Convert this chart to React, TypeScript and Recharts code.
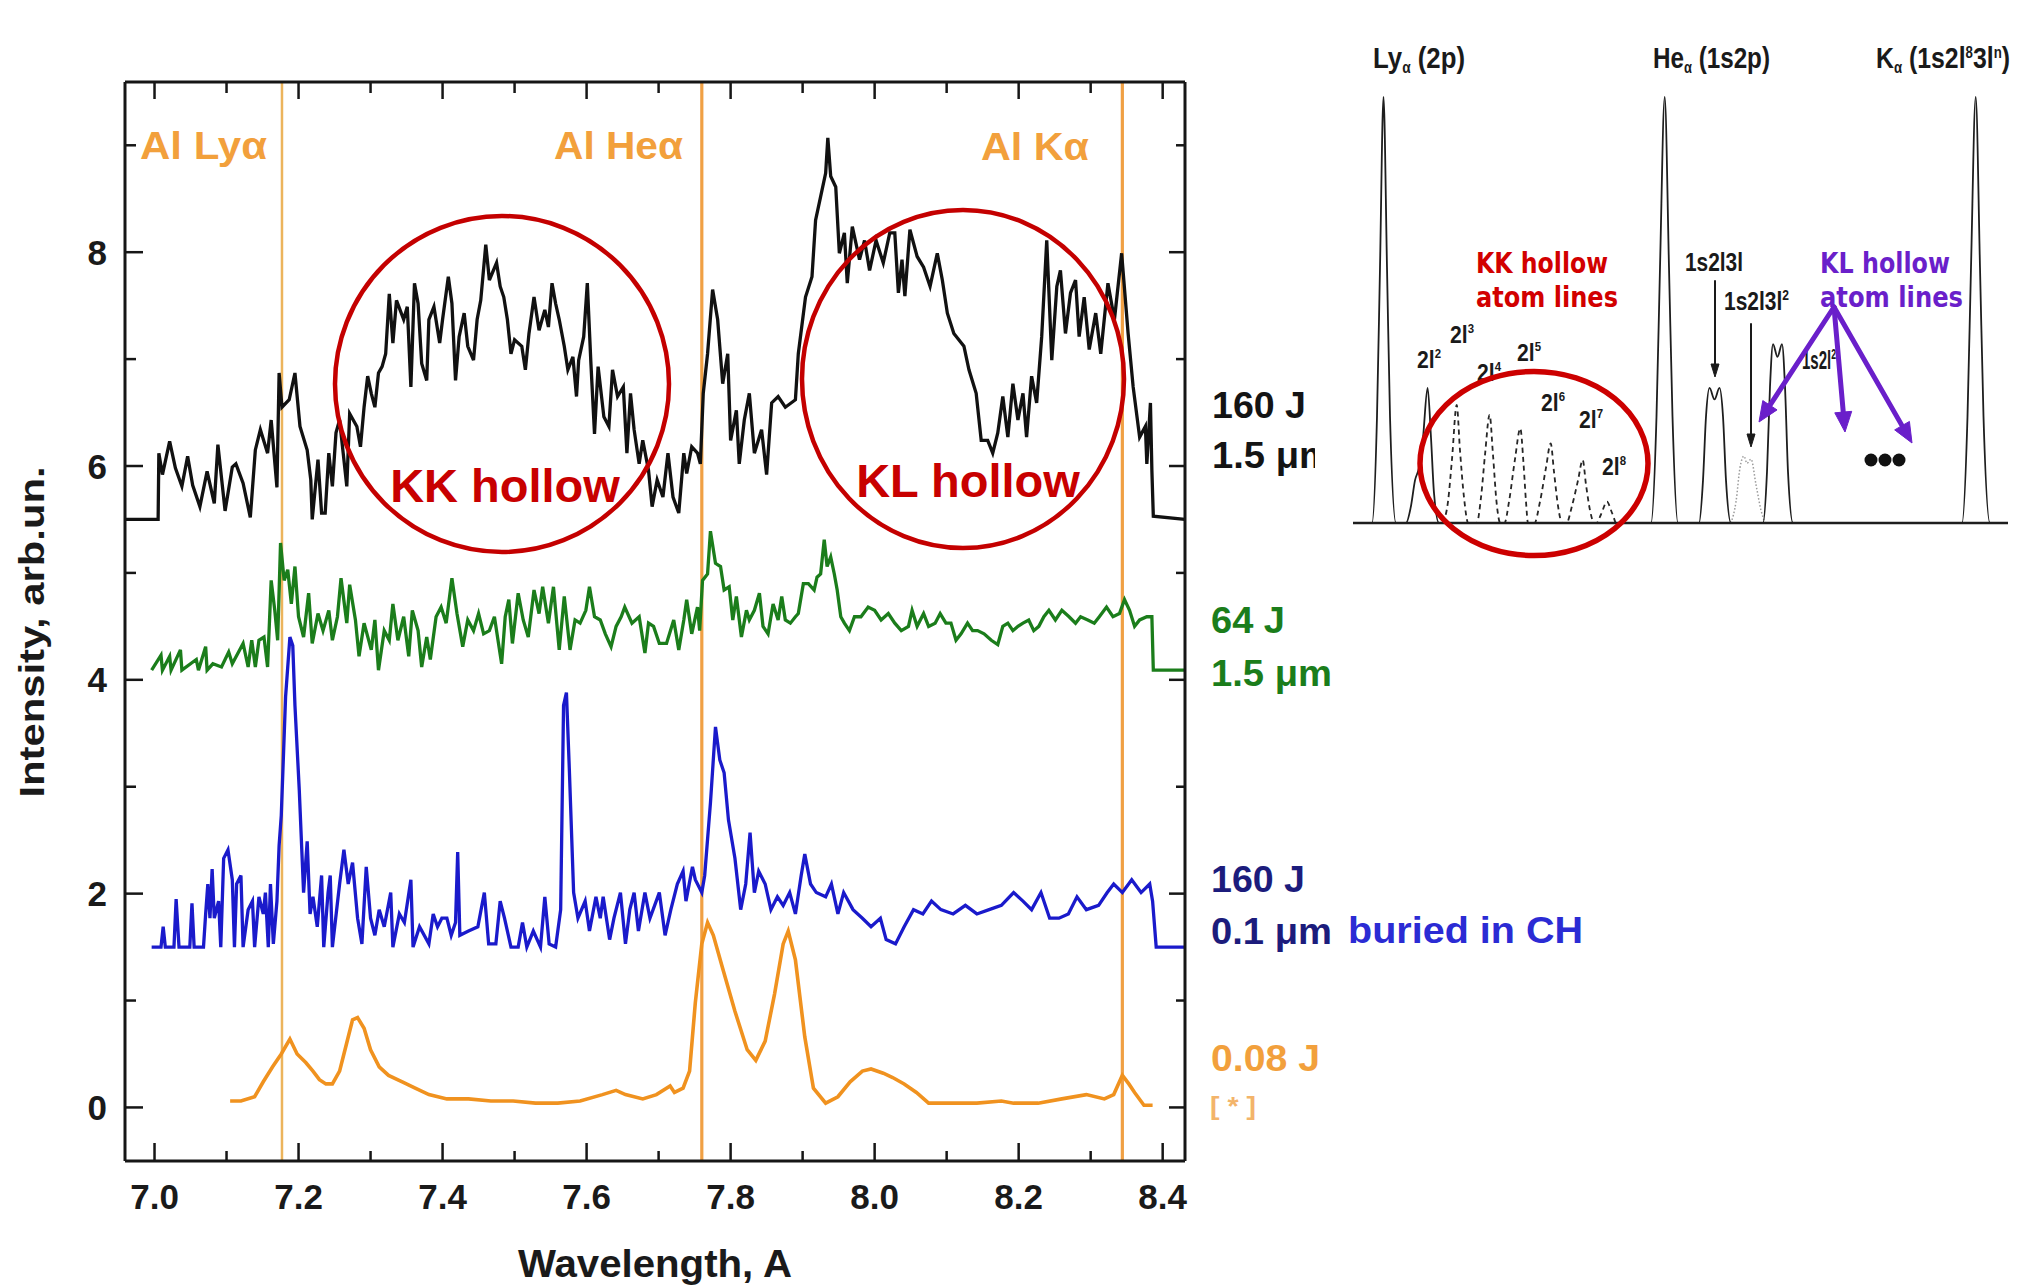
import React from 'react';
import { LineChart, Line, XAxis, YAxis, ReferenceLine } from 'recharts';

const FONT = '"Liberation Sans", Arial, Helvetica, sans-serif';

// ---------- main spectra (wavelength Å, intensity arb.un.) ----------
const blackPts: [number, number][] = [
  [6.959,5.5],[7.005,5.5],[7.006,6.12],[7.011,5.92],[7.021,6.23],[7.029,5.98],[7.038,5.81],[7.046,6.09],[7.053,5.82],[7.063,5.62],[7.073,5.95],[7.083,5.65],[7.088,6.2],[7.098,5.58],[7.108,5.99],[7.113,6.02],[7.123,5.84],[7.133,5.52],[7.14,6.15],[7.147,6.34],[7.157,6.12],[7.162,6.43],[7.17,5.8],[7.173,6.87],[7.177,6.55],[7.187,6.62],[7.195,6.87],[7.202,6.37],[7.212,6.15],[7.217,5.87],[7.219,5.5],[7.227,6.06],[7.232,5.56],[7.237,5.56],[7.242,6.12],[7.247,5.81],[7.252,6.31],[7.257,6.43],[7.262,6.12],[7.267,5.81],[7.271,6.49],[7.281,6.37],[7.286,6.18],[7.291,6.55],[7.296,6.84],[7.301,6.68],[7.306,6.55],[7.311,6.87],[7.316,6.93],[7.321,7.05],[7.326,7.61],[7.331,7.15],[7.336,7.55],[7.346,7.37],[7.351,7.49],[7.356,6.74],[7.361,7.71],[7.366,7.52],[7.371,6.96],[7.378,6.8],[7.381,7.37],[7.388,7.49],[7.396,7.15],[7.4,7.37],[7.408,7.77],[7.413,7.52],[7.418,6.8],[7.423,7.21],[7.43,7.43],[7.435,7.12],[7.443,6.99],[7.448,7.37],[7.453,7.55],[7.46,8.07],[7.465,7.74],[7.475,7.9],[7.48,7.68],[7.485,7.58],[7.49,7.37],[7.495,7.05],[7.5,7.18],[7.51,7.12],[7.515,6.9],[7.52,7.24],[7.527,7.58],[7.534,7.27],[7.542,7.46],[7.547,7.3],[7.552,7.71],[7.557,7.52],[7.562,7.37],[7.569,7.12],[7.574,6.9],[7.581,7.02],[7.586,6.65],[7.589,6.99],[7.596,7.21],[7.601,7.71],[7.606,6.96],[7.611,6.3],[7.616,6.93],[7.624,6.46],[7.631,6.37],[7.636,6.9],[7.643,6.65],[7.651,6.74],[7.656,6.12],[7.661,6.68],[7.666,6.34],[7.673,6.02],[7.678,6.24],[7.686,5.96],[7.691,5.62],[7.698,5.87],[7.706,5.71],[7.713,6.12],[7.72,5.71],[7.728,5.56],[7.735,6.12],
  [7.739,5.93],[7.746,6.18],[7.754,6.12],[7.758,6.02],[7.762,6.68],[7.768,7.05],[7.775,7.65],[7.782,7.37],[7.789,6.77],[7.796,7.05],[7.8,6.24],[7.808,6.52],[7.812,6.02],[7.819,6.43],[7.826,6.68],[7.833,6.12],[7.843,6.34],[7.85,5.92],[7.857,6.59],[7.866,6.65],[7.876,6.55],[7.89,6.62],[7.894,7.05],[7.904,7.58],[7.913,7.77],[7.918,8.3],[7.925,8.52],[7.932,8.74],[7.935,9.07],[7.939,8.71],[7.946,8.61],[7.951,7.99],[7.958,8.18],[7.962,7.71],[7.969,8.24],[7.979,7.93],[7.986,8.11],[7.993,7.83],[8.002,8.11],[8.012,7.9],[8.021,8.18],[8.028,8.18],[8.033,7.62],[8.038,7.93],[8.042,7.59],[8.049,8.21],[8.059,7.96],[8.068,7.86],[8.077,7.68],[8.087,7.99],[8.094,7.74],[8.101,7.43],[8.11,7.24],[8.124,7.12],[8.131,6.9],[8.141,6.68],[8.148,6.24],[8.157,6.24],[8.164,6.12],[8.171,6.31],[8.178,6.65],[8.185,6.27],[8.192,6.77],[8.199,6.43],[8.206,6.68],[8.211,6.27],[8.218,6.84],[8.225,6.59],[8.232,7.21],[8.239,8.11],[8.246,6.99],[8.253,7.68],[8.258,7.83],[8.265,7.24],[8.272,7.62],[8.279,7.74],[8.284,7.21],[8.291,7.58],[8.298,7.09],[8.307,7.43],[8.314,7.05],[8.324,7.71],[8.333,7.37],[8.343,7.99],[8.352,7.24],[8.359,6.74],[8.368,6.27],[8.376,6.37],[8.378,6.02],[8.383,6.59],[8.385,5.96],[8.387,5.53],[8.431,5.5],
];

const greenPts: [number, number][] = [
  [6.996,4.09],[7.009,4.23],[7.011,4.09],[7.021,4.22],[7.023,4.09],[7.036,4.28],[7.038,4.09],[7.058,4.19],[7.061,4.09],[7.071,4.31],[7.073,4.09],[7.081,4.15],[7.093,4.12],[7.103,4.26],[7.108,4.15],[7.123,4.34],[7.13,4.12],[7.135,4.37],[7.14,4.12],[7.145,4.37],[7.152,4.4],[7.157,4.12],[7.162,4.93],[7.167,4.65],[7.171,4.37],[7.175,5.28],[7.18,4.93],[7.185,5.03],[7.19,4.71],[7.195,5.06],[7.2,4.59],[7.207,4.4],[7.214,4.81],[7.219,4.34],[7.227,4.62],[7.234,4.46],[7.242,4.65],[7.247,4.37],[7.254,4.59],[7.259,4.95],[7.267,4.53],[7.271,4.89],[7.279,4.56],[7.284,4.22],[7.291,4.53],[7.301,4.28],[7.306,4.56],[7.311,4.09],[7.319,4.46],[7.326,4.37],[7.331,4.71],[7.338,4.37],[7.346,4.59],[7.353,4.22],[7.358,4.65],[7.366,4.46],[7.371,4.12],[7.378,4.4],[7.383,4.19],[7.391,4.59],[7.398,4.68],[7.405,4.53],[7.413,4.95],[7.42,4.62],[7.428,4.31],[7.435,4.56],[7.443,4.46],[7.45,4.62],[7.457,4.43],[7.465,4.46],[7.472,4.59],[7.482,4.15],[7.487,4.59],[7.492,4.75],[7.497,4.34],[7.505,4.81],[7.512,4.56],[7.519,4.4],[7.527,4.84],[7.534,4.62],[7.539,4.87],[7.547,4.53],[7.554,4.87],[7.562,4.28],[7.569,4.78],[7.577,4.28],[7.584,4.56],[7.591,4.53],[7.599,4.65],[7.604,4.87],[7.611,4.59],[7.619,4.56],[7.626,4.43],[7.634,4.31],[7.641,4.5],[7.648,4.59],[7.653,4.68],[7.663,4.53],[7.673,4.59],[7.681,4.25],[7.686,4.53],[7.693,4.5],[7.701,4.34],
  [7.711,4.34],[7.721,4.56],[7.728,4.28],[7.735,4.56],[7.739,4.75],[7.746,4.43],[7.754,4.68],[7.757,4.46],[7.761,4.93],[7.768,4.99],[7.772,5.39],[7.779,5.09],[7.786,5.06],[7.791,4.84],[7.798,4.87],[7.803,4.56],[7.808,4.78],[7.815,4.4],[7.822,4.65],[7.826,4.56],[7.833,4.65],[7.84,4.81],[7.845,4.5],[7.852,4.43],[7.859,4.71],[7.866,4.56],[7.871,4.78],[7.876,4.56],[7.883,4.53],[7.89,4.59],[7.894,4.62],[7.901,4.9],[7.908,4.9],[7.916,4.84],[7.92,4.96],[7.925,4.99],[7.93,5.31],[7.934,5.06],[7.939,5.15],[7.944,4.99],[7.948,4.84],[7.953,4.59],[7.958,4.53],[7.965,4.46],[7.972,4.59],[7.981,4.59],[7.991,4.68],[8.0,4.65],[8.009,4.56],[8.019,4.62],[8.028,4.53],[8.037,4.46],[8.047,4.5],[8.052,4.65],[8.059,4.5],[8.068,4.62],[8.075,4.5],[8.084,4.53],[8.091,4.62],[8.099,4.53],[8.106,4.53],[8.113,4.37],[8.12,4.43],[8.129,4.53],[8.136,4.46],[8.143,4.46],[8.152,4.43],[8.162,4.37],[8.171,4.33],[8.178,4.5],[8.185,4.53],[8.192,4.46],[8.199,4.5],[8.206,4.53],[8.214,4.56],[8.221,4.46],[8.228,4.5],[8.235,4.59],[8.242,4.65],[8.251,4.56],[8.26,4.65],[8.27,4.59],[8.279,4.53],[8.286,4.59],[8.296,4.56],[8.305,4.53],[8.312,4.59],[8.322,4.68],[8.331,4.59],[8.34,4.62],[8.347,4.75],[8.354,4.65],[8.361,4.5],[8.368,4.56],[8.378,4.59],[8.385,4.59],[8.387,4.09],[8.431,4.09],
];

const bluePts: [number, number][] = [
  [6.996,1.5],[7.009,1.5],[7.012,1.69],[7.015,1.5],[7.027,1.5],[7.03,1.95],[7.034,1.5],[7.049,1.5],[7.052,1.91],[7.055,1.5],[7.068,1.5],[7.071,1.81],[7.074,2.09],[7.077,1.77],[7.08,2.23],[7.083,1.77],[7.089,1.93],[7.092,1.5],[7.096,2.33],[7.102,2.41],[7.108,2.13],[7.111,1.5],[7.114,2.09],[7.12,2.17],[7.123,1.5],[7.13,1.85],[7.136,1.93],[7.139,1.5],[7.145,1.97],[7.151,1.81],[7.154,2.01],[7.158,1.5],[7.161,2.09],[7.165,1.53],[7.17,1.93],[7.173,2.45],[7.176,2.73],[7.182,3.84],[7.188,4.4],[7.192,4.32],[7.195,3.76],[7.201,2.97],[7.207,2.01],[7.212,2.49],[7.216,1.81],[7.22,1.97],[7.226,1.69],[7.232,2.17],[7.235,1.5],[7.241,2.01],[7.244,2.17],[7.247,1.5],[7.257,2.09],[7.263,2.41],[7.269,2.09],[7.275,2.29],[7.282,1.77],[7.288,1.53],[7.294,2.25],[7.3,1.77],[7.306,1.61],[7.312,1.85],[7.319,1.69],[7.328,2.01],[7.331,1.5],[7.34,1.81],[7.347,1.73],[7.356,2.13],[7.359,1.5],[7.368,1.69],[7.381,1.53],[7.387,1.81],[7.393,1.69],[7.399,1.77],[7.406,1.77],[7.412,1.61],[7.418,1.73],[7.421,2.39],[7.424,1.61],[7.436,1.65],[7.449,1.69],[7.458,2.01],[7.464,1.53],[7.474,1.53],[7.48,1.93],[7.486,1.77],[7.495,1.5],[7.505,1.5],[7.511,1.73],[7.517,1.5],[7.526,1.65],[7.536,1.5],[7.542,1.97],[7.548,1.53],[7.557,1.5],[7.564,1.85],[7.568,3.76],[7.572,3.88],[7.576,3.17],[7.582,2.01],[7.588,1.77],[7.598,1.93],[7.604,1.65],[7.613,1.97],[7.619,1.77],[7.623,1.97],[7.632,1.57],[7.638,1.77],[7.647,2.01],[7.654,1.53],[7.66,1.85],[7.666,2.01],[7.672,1.65],[7.681,2.01],
  [7.688,1.77],[7.701,2.01],[7.709,1.61],[7.717,1.85],[7.726,2.09],[7.734,2.21],[7.738,1.93],[7.747,2.25],[7.751,2.13],[7.76,2.01],[7.764,2.17],[7.772,2.85],[7.779,3.56],[7.785,3.25],[7.791,3.13],[7.797,2.69],[7.806,2.33],[7.814,1.85],[7.821,2.09],[7.827,2.57],[7.833,2.01],[7.839,2.21],[7.848,2.09],[7.856,1.85],[7.865,1.97],[7.873,1.89],[7.882,2.01],[7.89,1.81],[7.898,2.17],[7.903,2.37],[7.911,2.09],[7.919,2.01],[7.932,1.97],[7.94,2.09],[7.949,1.81],[7.957,2.01],[7.97,1.85],[7.983,1.77],[7.995,1.69],[8.008,1.77],[8.016,1.57],[8.029,1.53],[8.041,1.69],[8.054,1.85],[8.067,1.81],[8.079,1.93],[8.092,1.85],[8.109,1.81],[8.126,1.89],[8.142,1.81],[8.159,1.85],[8.176,1.89],[8.193,2.01],[8.206,1.93],[8.218,1.85],[8.231,2.01],[8.243,1.77],[8.256,1.77],[8.269,1.81],[8.281,1.97],[8.294,1.85],[8.311,1.89],[8.323,2.01],[8.332,2.09],[8.344,2.01],[8.357,2.13],[8.37,2.01],[8.382,2.09],[8.386,1.93],[8.391,1.5],[8.431,1.5],
];

const orangePts: [number, number][] = [
  [7.105,0.06],[7.12,0.06],[7.139,0.1],[7.151,0.24],[7.164,0.38],[7.176,0.5],[7.188,0.64],[7.198,0.5],[7.21,0.42],[7.22,0.34],[7.229,0.26],[7.238,0.22],[7.247,0.22],[7.257,0.34],[7.266,0.58],[7.275,0.82],[7.282,0.84],[7.291,0.74],[7.3,0.54],[7.312,0.38],[7.325,0.3],[7.344,0.24],[7.362,0.18],[7.381,0.12],[7.406,0.08],[7.436,0.08],[7.467,0.06],[7.498,0.06],[7.529,0.04],[7.56,0.04],[7.591,0.06],[7.622,0.12],[7.641,0.16],[7.654,0.12],[7.678,0.08],[7.697,0.12],[7.716,0.2],[7.722,0.14],[7.734,0.18],[7.743,0.34],[7.751,0.98],[7.76,1.53],[7.768,1.73],[7.776,1.61],[7.789,1.3],[7.806,0.9],[7.823,0.54],[7.835,0.44],[7.848,0.62],[7.861,1.06],[7.873,1.53],[7.88,1.65],[7.89,1.38],[7.903,0.66],[7.915,0.18],[7.932,0.04],[7.949,0.1],[7.966,0.24],[7.983,0.34],[7.995,0.36],[8.012,0.32],[8.025,0.28],[8.041,0.22],[8.058,0.14],[8.075,0.04],[8.109,0.04],[8.142,0.04],[8.176,0.06],[8.193,0.04],[8.227,0.04],[8.26,0.08],[8.294,0.12],[8.319,0.08],[8.332,0.12],[8.344,0.3],[8.353,0.22],[8.361,0.14],[8.374,0.02],[8.386,0.02],
];

// emission line positions (Å)
const lineNames = ['Al Lyα', 'Al Heα', 'Al Kα'];
const lineWavelengths = [7.177, 7.76, 8.344];

const xTicks = [7.0, 7.1, 7.2, 7.3, 7.4, 7.5, 7.6, 7.7, 7.8, 7.9, 8.0, 8.1, 8.2, 8.3, 8.4];
const yTicks = [0, 1, 2, 3, 4, 5, 6, 7, 8, 9];

// ---------- inset schematic (relative position, relative intensity) ----------
const insetSolid: [number, number][] = [
  [0,0],[19,0],[24,0.25],[27,0.6],[30.5,1],[34,0.6],[37,0.25],[43,0],[53,0],[58,0.04],[62,0.1],[66,0.13],[70,0.2],[74.6,0.317],[78,0.2],[81,0.07],[86,0],
  [298,0],[303.5,0.25],[307,0.6],[311.7,1],[316,0.6],[319.5,0.25],[325,0],
  [346,0],[350,0.1],[353,0.25],[356.5,0.317],[361.5,0.29],[366.5,0.317],[370,0.25],[373,0.1],[378,0],
  [410,0],[414,0.12],[417,0.32],[420,0.42],[424.5,0.39],[429,0.42],[432,0.32],[435,0.12],[440,0],
  [609,0],[614.5,0.25],[618,0.6],[622.7,1],[627,0.6],[630.5,0.25],[637,0],[655,0],
];
const insetDashed: [number, number][] = [
  [89.6,0],[95,0.05],[99,0.15],[103.7,0.277],[107,0.17],[111,0.06],[115.2,0],[123.8,0],[128,0.06],[132,0.16],[136.6,0.254],[140,0.16],[143.5,0.05],[147.3,0],[151.5,0],[156,0.05],[162,0.15],[167.3,0.222],[170.5,0.14],[173,0.05],[175,0],[181.4,0],[187,0.05],[193,0.13],[197.7,0.187],[201,0.12],[205,0.04],[209.2,0],[213.5,0],[219,0.04],[225,0.1],[229.7,0.148],[233,0.09],[237,0.03],[241.3,0],[243.4,0],[248,0.02],[254,0.05],[258,0.03],[262.6,0],
];
const insetDotted: [number, number][] = [
  [378,0],[383,0.05],[387,0.13],[391,0.157],[394,0.14],[398,0.15],[403,0.09],[408,0.03],[412,0],
];

const rows = (pts: [number, number][]) => pts.map(([x, y]) => ({ x, y }));

const isMajorX = (v: number) => Math.round(v * 10) % 2 === 0;
const isMajorY = (v: number) => Math.round(v) % 2 === 0;

const TICK_STROKE = '#161616';

function BottomTick(props: any) {
  const { x, y, payload } = props;
  const v = payload.value;
  const major = isMajorX(v);
  return (
    <g>
      <line x1={x} x2={x} y1={y} y2={y - (major ? 18 : 10)} stroke={TICK_STROKE} strokeWidth={2.5} />
      {major && (
        <text x={x} y={y + 48} textAnchor="middle" fontSize={35} fontWeight="bold" fill="#1a1a1a" fontFamily={FONT}>
          {v.toFixed(1)}
        </text>
      )}
    </g>
  );
}
function TopTick(props: any) {
  const { x, y, payload } = props;
  const major = isMajorX(payload.value);
  return <line x1={x} x2={x} y1={y} y2={y + (major ? 17 : 11)} stroke={TICK_STROKE} strokeWidth={2.5} />;
}
function LeftTick(props: any) {
  const { x, y, payload } = props;
  const v = payload.value;
  const major = isMajorY(v);
  return (
    <g>
      <line x1={x} x2={x + (major ? 18 : 11)} y1={y} y2={y} stroke={TICK_STROKE} strokeWidth={2.5} />
      {major && (
        <text x={x - 18} y={y} dy="0.36em" textAnchor="end" fontSize={35} fontWeight="bold" fill="#1a1a1a" fontFamily={FONT}>
          {String(v)}
        </text>
      )}
    </g>
  );
}
function RightTick(props: any) {
  const { x, y, payload } = props;
  const major = isMajorY(payload.value);
  return <line x1={x} x2={x - (major ? 16 : 9)} y1={y} y2={y} stroke={TICK_STROKE} strokeWidth={2.5} />;
}

function arrowHead(x1: number, y1: number, x2: number, y2: number, len: number, w: number) {
  const dx = x2 - x1, dy = y2 - y1;
  const d = Math.hypot(dx, dy);
  const ux = dx / d, uy = dy / d;
  const bx = x2 - ux * len, by = y2 - uy * len;
  const px = -uy * (w / 2), py = ux * (w / 2);
  return {
    points: `${x2},${y2} ${bx + px},${by + py} ${bx - px},${by - py}`,
    sx: x2 - ux * (len * 0.8),
    sy: y2 - uy * (len * 0.8),
  };
}

function Arrow({ x1, y1, x2, y2, color, sw, len, w }: any) {
  const h = arrowHead(x1, y1, x2, y2, len, w);
  return (
    <g>
      <line x1={x1} y1={y1} x2={h.sx} y2={h.sy} stroke={color} strokeWidth={sw} strokeLinecap="round" />
      <polygon points={h.points} fill={color} stroke={color} strokeWidth={1} strokeLinejoin="round" />
    </g>
  );
}

const ORANGE_LABEL = '#f2a03c';

export default function App() {
  const xDomain: [number, number] = [6.959, 8.431];
  const yDomain: [number, number] = [-0.501, 9.592];
  const purple = '#6a1fca';
  const axisLine = { stroke: '#161616', strokeWidth: 3 };

  return (
    <div style={{ position: 'absolute', left: 0, top: 0, width: 2019, height: 1287, background: '#fff', fontFamily: FONT, overflow: 'hidden' }}>
      {/* main chart: plot area spans x 125–1185, y 82–1161 */}
      <div style={{ position: 'absolute', left: 0, top: 0 }}>
        <LineChart width={1300} height={1287} margin={{ top: 72, right: 105, bottom: 66, left: 65 }}>
          <XAxis xAxisId="b" orientation="bottom" type="number" dataKey="x" domain={xDomain} allowDataOverflow ticks={xTicks} interval={0}
            height={60} tickSize={0} tickMargin={0} tickLine={false} tick={<BottomTick />} axisLine={axisLine} />
          <XAxis xAxisId="t" orientation="top" type="number" dataKey="x" domain={xDomain} allowDataOverflow ticks={xTicks} interval={0}
            height={10} tickSize={0} tickMargin={0} tickLine={false} tick={<TopTick />} axisLine={axisLine} />
          <YAxis yAxisId="l" orientation="left" type="number" domain={yDomain} allowDataOverflow ticks={yTicks} interval={0}
            width={60} tickSize={0} tickMargin={0} tickLine={false} tick={<LeftTick />} axisLine={axisLine} />
          <YAxis yAxisId="r" orientation="right" type="number" domain={yDomain} allowDataOverflow ticks={yTicks} interval={0}
            width={10} tickSize={0} tickMargin={0} tickLine={false} tick={<RightTick />} axisLine={axisLine} />
          {lineWavelengths.map((w, i) => (
            <ReferenceLine key={lineNames[i]} xAxisId="b" yAxisId="l" x={w}
              stroke={i === 0 ? '#ecb45c' : '#f0a044'} strokeWidth={i === 0 ? 2.5 : 3.2} />
          ))}
          <Line xAxisId="b" yAxisId="l" data={rows(orangePts)} dataKey="y" type="linear" stroke="#f0921f" strokeWidth={3.6} dot={false} isAnimationActive={false} />
          <Line xAxisId="b" yAxisId="l" data={rows(bluePts)} dataKey="y" type="linear" stroke="#1a1acb" strokeWidth={3.3} dot={false} isAnimationActive={false} />
          <Line xAxisId="b" yAxisId="l" data={rows(greenPts)} dataKey="y" type="linear" stroke="#1b7d1b" strokeWidth={3.3} dot={false} isAnimationActive={false} />
          <Line xAxisId="b" yAxisId="l" data={rows(blackPts)} dataKey="y" type="linear" stroke="#111111" strokeWidth={3.3} dot={false} isAnimationActive={false} />
          {/* series bound to the frame axes so that they are laid out */}
          <Line xAxisId="t" yAxisId="r" data={rows(blackPts)} dataKey="y" type="linear" stroke="none" strokeWidth={0} dot={false} activeDot={false} isAnimationActive={false} />
        </LineChart>
      </div>

      {/* main annotations */}
      <svg width={2019} height={1287} style={{ position: 'absolute', left: 0, top: 0, pointerEvents: 'none' }}>
        <g fontFamily={FONT} fontWeight="bold">
          <text x={140} y={159} fontSize={38} fill={ORANGE_LABEL} textLength={127} lengthAdjust="spacingAndGlyphs">{lineNames[0]}</text>
          <text x={554} y={159} fontSize={38} fill={ORANGE_LABEL} textLength={129} lengthAdjust="spacingAndGlyphs">{lineNames[1]}</text>
          <text x={981} y={160} fontSize={38} fill={ORANGE_LABEL} textLength={108} lengthAdjust="spacingAndGlyphs">{lineNames[2]}</text>

          <ellipse cx={502} cy={384} rx={167} ry={168} fill="none" stroke="#c40000" strokeWidth={4.5} />
          <ellipse cx={963} cy={379} rx={161} ry={169} fill="none" stroke="#c40000" strokeWidth={4.5} />
          <text x={505} y={502} fontSize={47} fill="#c80000" textAnchor="middle">KK hollow</text>
          <text x={968} y={497} fontSize={47} fill="#c80000" textAnchor="middle">KL hollow</text>

          <text x={1212} y={418} fontSize={36} fill="#141414" textLength={94} lengthAdjust="spacingAndGlyphs">160 J</text>
          <text x={1212} y={468} fontSize={36} fill="#141414" textLength={121} lengthAdjust="spacingAndGlyphs">1.5 μm</text>
          <text x={1211} y={633} fontSize={36} fill="#1b7d1b" textLength={74} lengthAdjust="spacingAndGlyphs">64 J</text>
          <text x={1211} y={686} fontSize={36} fill="#1b7d1b" textLength={121} lengthAdjust="spacingAndGlyphs">1.5 μm</text>
          <text x={1211} y={892} fontSize={36} fill="#1c1c7c" textLength={94} lengthAdjust="spacingAndGlyphs">160 J</text>
          <text x={1211} y={944} fontSize={36} fill="#1c1c7c" textLength={121} lengthAdjust="spacingAndGlyphs">0.1 μm</text>
          <text x={1348} y={943} fontSize={37} fill="#2b2bd4" textLength={235} lengthAdjust="spacingAndGlyphs">buried in CH</text>
          <text x={1211} y={1071} fontSize={36} fill={ORANGE_LABEL} textLength={109} lengthAdjust="spacingAndGlyphs">0.08 J</text>
          <text x={1210} y={1115} fontSize={26} fill="#f3b46a" textLength={46} lengthAdjust="spacingAndGlyphs">[ * ]</text>

          <text x={655} y={1277} fontSize={39} fill="#1a1a1a" textAnchor="middle" textLength={274} lengthAdjust="spacingAndGlyphs">Wavelength, A</text>
          <text x={44} y={632} fontSize={35} fill="#1a1a1a" textAnchor="middle" textLength={331} lengthAdjust="spacingAndGlyphs"
            transform="rotate(-90 44 632)">Intensity, arb.un.</text>
        </g>
      </svg>

      {/* inset background */}
      <div style={{ position: 'absolute', left: 1315, top: 0, width: 704, height: 565, background: '#fff' }} />

      {/* inset schematic chart */}
      <div style={{ position: 'absolute', left: 1340, top: 0 }}>
        <LineChart width={679} height={540} margin={{ top: 97, right: 11, bottom: 7, left: 3 }}>
          <XAxis type="number" dataKey="x" domain={[0, 655]} height={10} tick={false} tickLine={false}
            axisLine={{ stroke: '#1e1e1e', strokeWidth: 2.5 }} />
          <YAxis type="number" domain={[0, 1]} width={10} tick={false} tickLine={false} axisLine={false} />
          <Line data={rows(insetDotted)} dataKey="y" type="monotone" stroke="#9a9a9a" strokeWidth={1.5} strokeDasharray="1.5 2" dot={false} isAnimationActive={false} />
          <Line data={rows(insetDashed)} dataKey="y" type="monotone" stroke="#262626" strokeWidth={1.8} strokeDasharray="5 4" dot={false} isAnimationActive={false} />
          <Line data={rows(insetSolid)} dataKey="y" type="monotone" stroke="#1e1e1e" strokeWidth={1.8} dot={false} isAnimationActive={false} />
        </LineChart>
      </div>

      {/* inset annotations */}
      <svg width={2019} height={1287} style={{ position: 'absolute', left: 0, top: 0, pointerEvents: 'none' }}>
        <g fontFamily={FONT} fontWeight="bold" fill="#1a1a1a">
          <text x={1373} y={68} fontSize={30} textLength={92} lengthAdjust="spacingAndGlyphs">
            Ly<tspan fontSize={16} dy={5}>α</tspan><tspan dy={-5}> (2p)</tspan>
          </text>
          <text x={1653} y={68} fontSize={30} textLength={117} lengthAdjust="spacingAndGlyphs">
            He<tspan fontSize={16} dy={5}>α</tspan><tspan dy={-5}> (1s2p)</tspan>
          </text>
          <text x={1876} y={68} fontSize={30} textLength={134} lengthAdjust="spacingAndGlyphs">
            K<tspan fontSize={16} dy={5}>α</tspan><tspan dy={-5}> (1s2l</tspan><tspan fontSize={16} dy={-10}>8</tspan><tspan dy={10}>3l</tspan><tspan fontSize={16} dy={-10}>n</tspan><tspan dy={10}>)</tspan>
          </text>

          <text x={1685} y={271} fontSize={26} textLength={58} lengthAdjust="spacingAndGlyphs">1s2l3l</text>
          <text x={1724} y={310} fontSize={26} textLength={65} lengthAdjust="spacingAndGlyphs">
            1s2l3l<tspan fontSize={15} dy={-10}>2</tspan>
          </text>
          <text x={1802} y={369} fontSize={26} textLength={34} lengthAdjust="spacingAndGlyphs">
            1s2l<tspan fontSize={15} dy={-10}>2</tspan>
          </text>

          {[
            [1417, 368, '2'], [1450, 343, '3'], [1477, 381, '4'], [1517, 361, '5'],
            [1541, 411, '6'], [1579, 428, '7'], [1602, 475, '8'],
          ].map(([x, y, s]) => (
            <text key={String(s)} x={x as number} y={y as number} fontSize={24} textLength={24} lengthAdjust="spacingAndGlyphs">
              2l<tspan fontSize={13} dy={-10}>{s}</tspan>
            </text>
          ))}
        </g>

        <g fontFamily='"DejaVu Sans", "Liberation Sans", sans-serif' fontWeight="bold">
          <text x={1476} y={273} fontSize={28} fill="#d20000" textLength={132} lengthAdjust="spacingAndGlyphs">KK hollow</text>
          <text x={1476} y={307} fontSize={28} fill="#d20000" textLength={142} lengthAdjust="spacingAndGlyphs">atom lines</text>
          <text x={1820} y={273} fontSize={28} fill={purple} textLength={130} lengthAdjust="spacingAndGlyphs">KL hollow</text>
          <text x={1820} y={307} fontSize={28} fill={purple} textLength={143} lengthAdjust="spacingAndGlyphs">atom lines</text>
        </g>

        <Arrow x1={1715} y1={281} x2={1715} y2={377} color="#1a1a1a" sw={2} len={13} w={8} />
        <Arrow x1={1751} y1={324} x2={1751} y2={447} color="#1a1a1a" sw={2} len={13} w={8} />

        <Arrow x1={1834} y1={307} x2={1759} y2={422} color={purple} sw={5} len={20} w={17} />
        <Arrow x1={1834} y1={307} x2={1845} y2={432} color={purple} sw={5} len={20} w={17} />
        <Arrow x1={1834} y1={307} x2={1912} y2={443} color={purple} sw={5} len={20} w={17} />

        <circle cx={1871} cy={460} r={6.5} fill="#111" />
        <circle cx={1885} cy={460} r={6.5} fill="#111" />
        <circle cx={1899} cy={460} r={6.5} fill="#111" />

        <ellipse cx={1534} cy={463.5} rx={114} ry={92} fill="none" stroke="#cc0000" strokeWidth={5.5} />
      </svg>
    </div>
  );
}
